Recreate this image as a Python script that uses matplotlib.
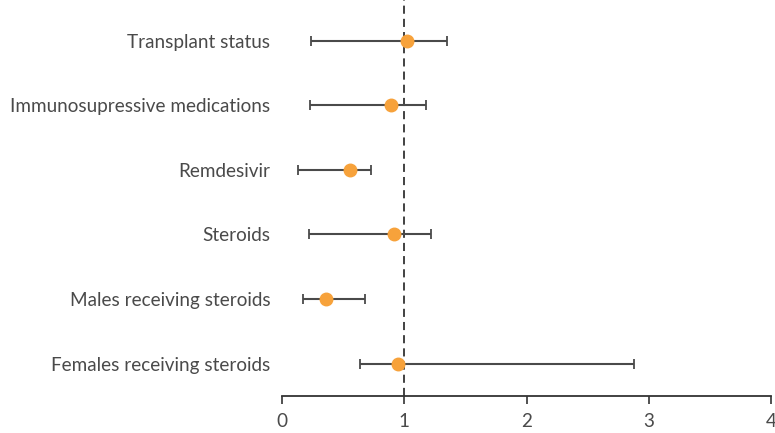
import matplotlib.pyplot as plt
import numpy as np

plt.rcParams['font.family'] = ['Lato', 'DejaVu Sans']

labels = ["Transplant status", "Immunosupressive medications", "Remdesivir",
          "Steroids", "Males receiving steroids", "Females receiving steroids"]
estimate = [1.02, 0.89, 0.56, 0.92, 0.36, 0.945]
ci_low = [0.24, 0.23, 0.13, 0.22, 0.17, 0.64]
ci_high = [1.35, 1.18, 0.73, 1.22, 0.68, 2.88]
xticks = [0, 1, 2, 3, 4]

est = np.array(estimate)
lo = np.array(ci_low)
hi = np.array(ci_high)
ypos = np.arange(len(labels))[::-1]

fig = plt.figure(figsize=(7.75, 4.33), dpi=100)
ax = fig.add_axes([0.3639, 0.0855, 0.6310, 0.9145])

ax.axvline(1, color="#333333", linestyle=(0, (4.5, 2.8)), linewidth=1.3, zorder=1)
ax.errorbar(est, ypos, xerr=[est - lo, hi - est], fmt="none",
            ecolor="#4a4a4a", elinewidth=1.5, capsize=3.5, capthick=1.3, zorder=2)
ax.plot(est, ypos, "o", color="#f7a23b", markersize=9, zorder=3)

ax.set_xlim(0, 4)
ax.set_ylim(-0.5, 5.63)
ax.set_xticks(xticks)
ax.set_xticklabels([str(t) for t in xticks])
ax.set_yticks(ypos)
ax.set_yticklabels(labels)

for s in ["top", "right", "left"]:
    ax.spines[s].set_visible(False)
ax.spines["bottom"].set_color("#333333")
ax.spines["bottom"].set_linewidth(1.3)
ax.tick_params(axis="y", length=0, pad=8.5, labelsize=13.6, labelcolor="#4a4a4a")
ax.tick_params(axis="x", length=6, width=1.2, color="#333333", pad=6,
               labelsize=13.6, labelcolor="#4a4a4a")

fig.savefig("out.png", dpi=100)
